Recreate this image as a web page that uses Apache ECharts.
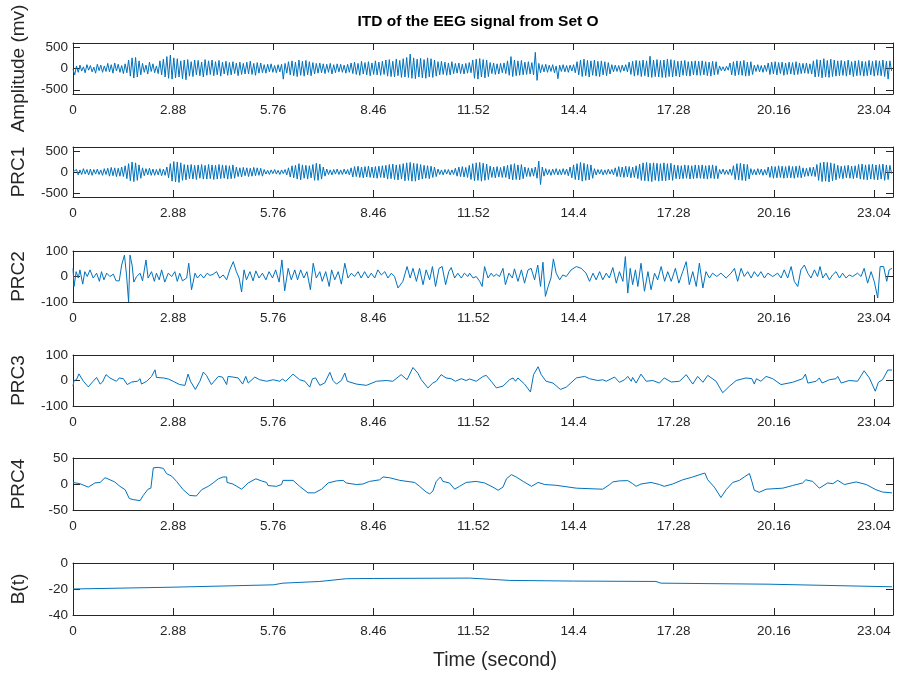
<!DOCTYPE html>
<html><head><meta charset="utf-8">
<script src="https://cdn.jsdelivr.net/npm/echarts@6/dist/echarts.min.js"></script>
<style>html,body{margin:0;padding:0;background:#fff}#c{width:898px;height:675px}</style>
</head><body><div id="c"></div>
<script>
// ---------- data ----------
const DT = 0.05;            // sample step (s) of the two dense signals
const X_MAX = 23.59;
const xTickValues = [0, 2.88, 5.76, 8.64, 11.52, 14.4, 17.28, 20.16, 23.04];
const xTickLabels = ['0', '2.88', '5.76', '8.46', '11.52', '14.4', '17.28', '20.16', '23.04'];

const ampValues = [
-20,-150,60,-90,80,-60,40,-100,90,-40,70,-80,30,-110,100,-50,80,-90,60,-70,
120,-80,90,-110,130,-60,100,-90,70,-120,110,-100,200,-180,250,-225,260,-200,180,-150,
120,-90,80,-130,150,-70,110,-100,60,-120,180,-150,220,-200,280,-230,315,-250,250,-220,
230,-200,180,-240,200,-265,210,-180,160,-190,200,-150,190,-170,150,-200,210,-160,180,-140,
200,-170,160,-150,190,-180,150,-130,170,-160,140,-150,160,-120,130,-170,150,-140,120,-130,
150,-130,170,-140,120,-160,140,-110,130,-100,90,-110,100,-80,110,-90,70,-100,90,-80,
100,-250,120,-110,160,-150,180,-170,150,-190,200,-160,170,-180,190,-150,160,-170,140,-130,
120,-110,130,-100,110,-120,100,-90,120,-130,90,-100,110,-80,100,-90,80,-110,100,-90,
130,-120,150,-140,120,-160,170,-130,140,-150,160,-170,130,-140,180,-150,150,-160,170,-140,
200,-180,210,-190,170,-200,220,-170,190,-210,230,-200,260,-210,340,-230,250,-240,220,-200,
240,-220,210,-230,250,-200,230,-210,200,-180,160,-150,170,-140,150,-160,130,-150,160,-120,
120,-110,130,-120,100,-130,120,-110,140,-100,200,-230,220,-250,234,-200,210,-220,200,-190,
140,-120,130,-140,110,-130,120,-100,130,-120,180,-160,280,-190,200,-170,180,-160,190,-150,
150,-140,160,-130,140,-150,380,-280,120,-100,90,-80,100,-90,80,-70,90,-100,60,-240,
80,-70,90,-80,70,-90,80,-60,90,-100,160,-150,200,-190,220,-170,190,-200,180,-160,
200,-180,170,-190,180,-150,160,-170,140,-130,90,-80,80,-70,70,-90,80,-60,90,-80,
150,-140,170,-180,190,-160,180,-190,200,-170,180,-200,290,-210,200,-190,210,-200,190,-210,
200,-210,220,-190,210,-200,190,-180,170,-200,180,-160,190,-170,160,-180,170,-150,180,-160,
170,-160,180,-150,160,-170,150,-180,170,-150,160,-140,60,-50,40,-60,50,-40,130,-150,
160,-170,180,-150,170,-160,190,-180,150,-170,160,-140,80,-70,90,-80,70,-90,80,-70,
130,-140,150,-130,160,-150,140,-120,150,-160,130,-140,150,-130,140,-150,160,-140,130,-120,
120,-110,130,-120,110,-130,180,-200,210,-190,200,-220,230,-200,190,-210,220,-190,200,-180,
180,-170,190,-160,170,-180,200,-150,160,-190,180,-170,190,-160,170,-180,160,-170,190,-150,
170,-180,190,-160,180,-170,200,-190,170,-250,180,-60
];

const prc1Values = [
0,-40,60,-70,50,-60,80,-50,60,-70,70,-80,60,-50,70,-60,50,-80,80,-60,
90,-100,110,-90,100,-110,90,-100,120,-110,150,-160,200,-210,240,-230,220,-200,170,-150,
100,-90,80,-70,90,-80,70,-80,60,-70,80,-90,70,-80,120,-140,200,-220,250,-240,
240,-250,220,-200,180,-190,170,-160,180,-170,160,-180,170,-150,180,-170,160,-170,180,-160,
170,-180,160,-170,180,-160,170,-150,160,-170,150,-160,170,-150,120,-110,100,-120,110,-90,
100,-110,90,-100,110,-90,100,-80,90,-100,60,-50,40,-60,50,-40,60,-50,40,-60,
50,-40,60,-70,100,-120,150,-140,160,-170,200,-190,170,-150,160,-170,150,-140,180,-200,
210,-200,190,-170,120,-100,70,-60,50,-70,60,-50,70,-60,50,-60,70,-50,60,-70,
100,-120,130,-110,140,-130,120,-140,130,-120,140,-130,120,-140,130,-150,140,-130,150,-140,
160,-170,180,-160,190,-180,170,-190,180,-170,200,-210,220,-200,230,-220,210,-220,200,-190,
180,-170,160,-150,150,-160,140,-130,120,-110,70,-60,50,-70,60,-50,60,-70,50,-60,
90,-100,120,-110,130,-120,110,-130,160,-180,200,-210,220,-200,230,-220,210,-200,190,-180,
140,-130,120,-140,130,-120,110,-130,140,-130,160,-170,180,-190,200,-180,170,-190,180,-160,
120,-110,100,-110,90,-100,120,-150,260,-300,120,-100,80,-70,60,-80,70,-60,80,-70,
60,-70,80,-60,70,-90,120,-140,170,-180,200,-190,230,-220,210,-200,180,-190,170,-150,
80,-70,60,-50,60,-70,50,-60,70,-50,60,-70,100,-110,130,-120,120,-130,140,-120,
130,-140,120,-130,150,-160,190,-200,220,-210,230,-220,210,-230,220,-200,210,-220,200,-210,
220,-210,200,-190,210,-200,170,-160,160,-170,150,-160,170,-150,160,-170,150,-160,170,-150,
160,-150,170,-160,150,-170,160,-150,170,-160,150,-160,60,-50,70,-60,50,-60,70,-80,
150,-180,200,-190,210,-200,190,-210,180,-170,80,-70,60,-70,80,-60,70,-80,60,-70,
120,-130,140,-150,130,-140,150,-130,140,-150,130,-140,150,-140,130,-150,140,-130,150,-140,
100,-110,90,-100,110,-100,120,-110,180,-200,220,-230,240,-220,230,-240,220,-210,200,-190,
160,-150,140,-160,150,-140,160,-150,140,-160,150,-140,180,-170,190,-180,170,-190,180,-170,
190,-180,170,-190,180,-170,190,-200,170,-180,160,-40
];

const prc2Time = [0,0.03,0.09,0.15,0.2,0.28,0.34,0.41,0.49,0.58,0.68,0.76,0.82,0.89,0.97,1.06,1.16,1.24,1.33,1.4,1.48,1.54,1.6,1.64,1.7,1.75,1.83,1.93,2.0,2.1,2.16,2.26,2.34,2.4,2.48,2.55,2.64,2.74,2.84,2.93,3.0,3.07,3.15,3.27,3.33,3.41,3.51,3.58,3.67,3.76,3.86,3.94,4.03,4.13,4.22,4.32,4.42,4.51,4.61,4.7,4.78,4.85,4.92,4.99,5.09,5.18,5.26,5.35,5.45,5.55,5.64,5.74,5.83,5.93,6.01,6.09,6.19,6.28,6.38,6.46,6.55,6.64,6.73,6.83,6.91,7.0,7.1,7.17,7.27,7.37,7.44,7.53,7.63,7.72,7.82,7.91,8.01,8.1,8.2,8.29,8.39,8.49,8.58,8.68,8.77,8.87,8.97,9.06,9.16,9.25,9.35,9.49,9.61,9.7,9.78,9.88,9.97,10.07,10.16,10.26,10.34,10.43,10.53,10.62,10.72,10.81,10.88,10.98,11.07,11.17,11.26,11.36,
11.41,11.51,11.6,11.7,11.77,11.84,11.94,12.03,12.1,12.18,12.27,12.37,12.44,12.54,12.64,12.7,12.8,12.9,12.99,13.09,13.18,13.28,13.37,13.45,13.52,13.59,13.67,13.75,13.82,13.9,14.0,14.09,14.19,14.33,14.48,14.62,14.76,14.86,14.96,15.05,15.15,15.24,15.34,15.43,15.53,15.63,15.72,15.82,15.89,15.96,16.03,16.1,16.18,16.25,16.34,16.44,16.54,16.63,16.73,16.82,16.92,17.02,17.11,17.21,17.33,17.43,17.54,17.64,17.73,17.83,17.93,18.02,18.12,18.21,18.31,18.4,18.52,18.64,18.79,18.93,19.03,19.12,19.22,19.31,19.41,19.51,19.6,19.7,19.79,19.89,19.99,20.13,20.27,20.37,20.46,20.56,20.66,20.75,20.85,20.94,21.04,21.14,21.23,21.33,21.42,21.49,21.57,21.66,21.76,21.85,21.95,22.05,22.14,22.24,22.33,22.43,22.57,22.67,22.76,22.86,22.96,23.05,23.15,23.22,23.32,23.41,23.48,23.56];
const prc2Values = [32,-39,19,-6,26,-30,19,0,26,-6,13,-19,19,-13,13,0,9,-17,-17,45,84,6,-100,84,45,-22,0,13,-17,65,-6,19,-19,13,-13,26,-22,13,0,19,-19,13,-17,-6,52,-52,13,-6,9,-6,13,4,9,19,-6,6,-13,26,58,19,-6,-61,26,-13,19,-17,22,-6,13,-13,19,-6,26,-22,65,-56,32,-13,26,-13,26,-6,19,-52,52,-6,19,-19,19,-39,26,-13,19,-30,52,-6,13,0,19,-6,19,-6,13,-6,26,6,19,-6,13,0,-45,-19,39,-6,32,-19,32,-32,26,-13,39,-39,32,39,-32,19,35,-6,13,-6,13,0,
13,-6,0,-19,-39,39,-6,13,0,9,0,32,-32,13,-6,30,-19,26,-26,26,32,-13,45,-39,56,-78,-39,-6,69,13,-13,6,0,26,39,32,13,-19,13,-13,19,-13,13,-6,35,-26,19,-19,78,-65,32,-32,26,-39,52,-58,19,-52,13,-13,39,-19,19,-19,32,-26,19,58,-32,19,-39,52,-45,19,-6,13,0,13,-6,13,32,-19,32,0,19,-6,19,0,19,-6,13,0,13,-6,26,-6,39,-19,-39,26,45,13,-6,26,0,39,-6,13,-13,6,19,-6,13,-6,6,0,13,0,32,-26,19,-19,-84,39,39,-19,26,32];

const prc3Time = [0,0.03,0.1,0.17,0.22,0.3,0.44,0.58,0.68,0.73,0.78,0.85,0.95,1.06,1.25,1.33,1.45,1.56,1.69,1.85,1.93,1.97,2.12,2.26,2.36,2.4,2.6,2.74,2.88,3.07,3.22,3.31,3.38,3.52,3.65,3.75,3.84,3.98,4.18,4.3,4.42,4.46,4.6,4.75,4.88,4.97,5.04,5.23,5.37,5.57,5.76,5.95,6.02,6.12,6.33,6.52,6.67,6.81,6.89,6.98,7.1,7.24,7.39,7.48,7.58,7.72,7.82,7.89,8.15,8.44,8.73,9.01,9.2,9.44,9.61,9.78,9.92,10.02,10.21,10.35,10.45,10.59,10.73,10.88,11.0,11.17,11.31,
11.41,11.6,11.8,11.89,12.03,12.18,12.37,12.56,12.66,12.73,12.8,12.99,13.16,13.25,13.38,13.47,13.61,13.81,14.02,14.19,14.48,14.72,14.86,15.1,15.24,15.34,15.58,15.72,15.87,15.96,16.06,16.1,16.2,16.34,16.49,16.68,16.87,17.01,17.21,17.45,17.64,17.83,17.97,18.12,18.26,18.5,18.69,18.88,19.08,19.36,19.53,19.6,19.66,19.79,19.94,20.13,20.37,20.7,20.99,21.07,21.14,21.38,21.47,21.55,21.76,21.95,22.0,22.1,22.33,22.57,22.76,22.91,23.08,23.17,23.29,23.44,23.56];
const prc3Values = [-22,0,3,26,26,-3,-25,-3,12,16,-14,-6,23,10,-3,10,7,-16,-6,-3,7,-14,-3,16,42,12,10,6,-3,-16,-19,25,-3,-35,-3,33,20,-16,16,13.5,-16,16,13.5,10,-14,16,-10,13.5,3,-3,3,-3,6,-3,25,3,-3,-26,7,10,-19,-10,32,0,-14,0,29,-3,-14,-19,-3,0,-3,23,3,51,29,3,-29,-10,-3,23,10,7,-3,7,0,
6,-3,16,20,-3,-29,-22,3,10,-3,10,-14,-45,23,54,23,-3,-10,-35,-26,10,16,7,0,3,-3,13.5,-7,3,16,-3,12,-10,25,-3,0,-10,10,-6,-3,23,-14,16,-7,20,-3,-48,-23,0,10,7,-14,7,-3,16,7,-16,-7,7,25,-10,-3,10,-10,3,7,16,-10,0,-3,38,10,-42,-7,3,41,41];

const prc4Time = [0,0.2,0.44,0.63,0.78,0.92,1.0,1.2,1.35,1.5,1.62,1.73,1.93,2.02,2.16,2.24,2.31,2.45,2.6,2.69,2.84,2.98,3.17,3.36,3.55,3.7,3.89,4.03,4.18,4.32,4.42,4.43,4.6,4.85,5.04,5.26,5.42,5.57,5.61,5.85,6.0,6.04,6.33,6.52,6.76,6.95,7.15,7.34,7.58,7.77,7.86,8.15,8.34,8.53,8.82,8.92,9.11,9.4,9.83,9.97,10.16,10.26,10.35,10.45,10.57,10.64,10.83,10.98,11.12,11.31,11.6,11.84,12.08,12.23,12.37,12.47,12.61,12.75,12.95,13.19,13.38,13.57,13.9,14.48,15.24,15.44,15.53,15.72,15.96,16.1,16.2,16.34,16.63,16.87,17.01,17.25,17.54,17.83,18.12,18.18,18.26,18.45,18.64,18.79,18.98,19.17,19.31,19.46,19.53,19.6,19.74,19.94,20.42,20.7,20.99,21.08,21.28,21.47,21.71,21.86,22.0,22.19,22.53,22.82,23.1,23.29,23.56];
const prc4Values = [3,0.6,-6,2,3,12,10,4,-4.5,-11,-28,-30,-32,-22,-10,-8,31,32,30,20,15,5,-11,-22,-23,-11,-4.5,2,10,13.5,13.5,3,0,-10,2,10,6,3,-3,-4.5,-1,7,7,-4.5,-17,-17,-10,2,6,7,2,-1,0,5,8,13.5,12,7,3,-4.5,-15.5,-19,-14,5,13.5,5,2,-10,-4.5,3,5,2,-6,-12,-6,10,18,13.5,5,-4.5,3,-1,-2.5,-8,-10,-1,4,6,6.5,0.6,-4.5,0,3,-1,-4.5,0,8,13.5,20,21,8,-6,-26,-11,3,7,13.5,20,5,-12,-16,-10,-8,-3,2,8,5,-8,2,0.6,7,-1,4,-1,-11,-15.5,-17];

const btTime = [0,2.88,5.76,6.04,7.1,7.86,8.64,11.41,12.56,14.4,16.77,16.91,20.02,23.56];
const btValues = [-20,-18.6,-16.8,-15.5,-14.2,-12.1,-11.9,-11.6,-13.4,-13.9,-14.2,-15.5,-16.3,-18.3];

const panelNames = ['Amplitude (mv)', 'PRC1', 'PRC2', 'PRC3', 'PRC4', 'B(t)'];
const yMins = [-600, -600, -100, -100, -50, -40];
const yMaxs = [600, 600, 100, 100, 50, 0];
const yTicks = [[-500, 0, 500], [-500, 0, 500], [-100, 0, 100], [-100, 0, 100], [-50, 0, 50], [-40, -20, 0]];
const titleText = 'ITD of the EEG signal from Set O';
const xTitle = 'Time (second)';

// ---------- layout / style ----------
const gridTops = [43, 147, 251, 355, 458, 563];
const gridHeights = [51, 50, 51, 51, 52, 52];
const FONT = 'Liberation Sans, Arial, Helvetica, sans-serif';
const AX = '#262626';
const LINE = '#0072BD';

const uniform = (vals) => vals.map((v, i) => [+(i * DT).toFixed(3), v]);
const paired = (ts, vs) => ts.map((t, i) => [t, vs[i]]);
const seriesData = [
  uniform(ampValues), uniform(prc1Values),
  paired(prc2Time, prc2Values), paired(prc3Time, prc3Values),
  paired(prc4Time, prc4Values), paired(btTime, btValues)
];

const xLabelFmt = (v) => {
  for (let i = 0; i < xTickValues.length; i++) if (Math.abs(v - xTickValues[i]) < 1e-6) return xTickLabels[i];
  return '';
};

const grids = [], xAxes = [], yAxes = [], series = [];
for (let k = 0; k < 6; k++) {
  grids.push({ left: 73, right: 5, top: gridTops[k], height: gridHeights[k], containLabel: false });
  const common = { type: 'value', gridIndex: k, min: 0, max: X_MAX,
    splitLine: { show: false },
    axisLine: { show: true, onZero: false, lineStyle: { color: AX, width: 1 } } };
  xAxes.push(Object.assign({}, common, {
    position: 'bottom',
    axisTick: { show: true, inside: true, length: 7, customValues: xTickValues, lineStyle: { color: AX } },
    axisLabel: { show: true, customValues: xTickValues, formatter: xLabelFmt, color: AX, fontSize: 13.5, fontFamily: FONT, margin: 9 }
  }));
  xAxes.push(Object.assign({}, common, {
    position: 'top',
    axisTick: { show: true, inside: true, length: 7, customValues: xTickValues, lineStyle: { color: AX } },
    axisLabel: { show: false }
  }));
  const yc = { type: 'value', gridIndex: k, min: yMins[k], max: yMaxs[k],
    splitLine: { show: false },
    axisLine: { show: true, onZero: false, lineStyle: { color: AX, width: 1 } } };
  yAxes.push(Object.assign({}, yc, {
    position: 'left',
    name: panelNames[k], nameLocation: 'middle', nameRotate: 90, nameGap: 45,
    nameTextStyle: { color: AX, fontSize: 19, fontFamily: FONT },
    axisTick: { show: true, inside: true, length: 7, customValues: yTicks[k], lineStyle: { color: AX } },
    axisLabel: { show: true, customValues: yTicks[k], color: AX, fontSize: 13.5, fontFamily: FONT, margin: 5 }
  }));
  yAxes.push(Object.assign({}, yc, {
    position: 'right',
    axisTick: { show: true, inside: true, length: 7, customValues: yTicks[k], lineStyle: { color: AX } },
    axisLabel: { show: false }
  }));
  series.push({
    type: 'line', xAxisIndex: 2 * k, yAxisIndex: 2 * k, data: seriesData[k],
    showSymbol: false, symbol: 'none', smooth: false,
    lineStyle: { color: LINE, width: 1 }, silent: true, clip: true
  });
}

const chart = echarts.init(document.getElementById('c'), null, { renderer: 'canvas' });
chart.setOption({
  animation: false,
  backgroundColor: '#fff',
  grid: grids, xAxis: xAxes, yAxis: yAxes, series: series,
  graphic: [
    { type: 'text', x: 478, y: 22, style: { text: titleText, font: 'bold 15.5px ' + FONT, fill: '#000', align: 'center', verticalAlign: 'middle' } },
    { type: 'text', x: 495, y: 661, style: { text: xTitle, font: '19.5px ' + FONT, fill: AX, align: 'center', verticalAlign: 'middle' } }
  ]
});
</script></body></html>
